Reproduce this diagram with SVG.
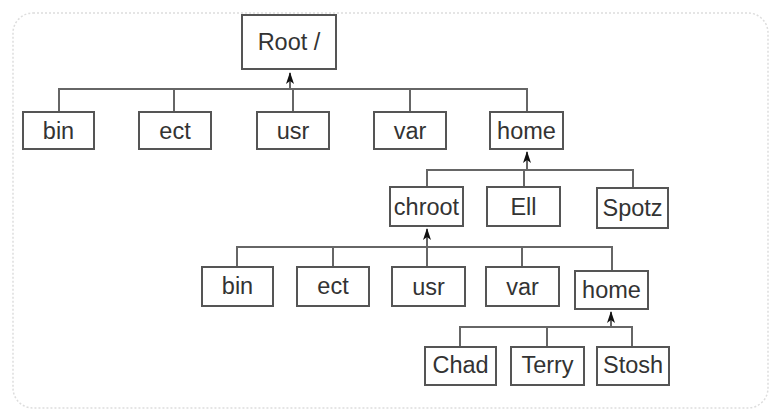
<svg xmlns="http://www.w3.org/2000/svg" width="775" height="414" viewBox="0 0 775 414">
<style>
.box{fill:#fff;stroke:#555;stroke-width:2}
.lbl{font-family:"Liberation Sans",Arial,sans-serif;font-size:23.5px;fill:#333;text-anchor:middle;dominant-baseline:central}
.con{fill:none;stroke:#666;stroke-width:2}
</style>
<defs>
<marker id="arr" viewBox="0 0 12 8" refX="11" refY="4" markerWidth="12" markerHeight="8" markerUnits="userSpaceOnUse" orient="auto">
<path d="M0 0 L12 4 L0 8 L3 4 Z" fill="#111"/>
</marker>
</defs>
<rect x="13" y="13" width="755" height="395" rx="20" fill="none" stroke="#ddd" stroke-width="1.5" stroke-dasharray="2 2"/>
<g id="connectors">
<path class="con" d="M59 112 V89 H527 V112"/>
<path class="con" d="M174 112 V89"/>
<path class="con" d="M293 112 V89"/>
<path class="con" d="M410 112 V89"/>
<path class="con" d="M290 89 V73" marker-end="url(#arr)"/>
<path class="con" d="M427 187 V170 H633 V188"/>
<path class="con" d="M524 187 V170"/>
<path class="con" d="M527 170 V152" marker-end="url(#arr)"/>
<path class="con" d="M237 267 V247 H612 V271"/>
<path class="con" d="M333 267 V247"/>
<path class="con" d="M427 267 V247"/>
<path class="con" d="M522 267 V247"/>
<path class="con" d="M427 247 V229" marker-end="url(#arr)"/>
<path class="con" d="M460 347 V327 H632 V347"/>
<path class="con" d="M547 347 V327"/>
<path class="con" d="M611 327 V312" marker-end="url(#arr)"/>
</g>
<g id="root"><rect class="box" x="242" y="15" width="94" height="54"/><text class="lbl" x="289" y="42">Root /</text></g>
<g id="bin1"><rect class="box" x="23" y="112" width="71" height="37"/><text class="lbl" x="58.5" y="130.5">bin</text></g>
<g id="ect1"><rect class="box" x="139" y="112" width="72" height="37"/><text class="lbl" x="175" y="130.5">ect</text></g>
<g id="usr1"><rect class="box" x="257" y="112" width="72" height="37"/><text class="lbl" x="293" y="130.5">usr</text></g>
<g id="var1"><rect class="box" x="374" y="112" width="72" height="37"/><text class="lbl" x="410" y="130.5">var</text></g>
<g id="home1"><rect class="box" x="490" y="112" width="73" height="37"/><text class="lbl" x="526.5" y="130.5">home</text></g>
<g id="chroot"><rect class="box" x="390" y="187" width="73" height="39"/><text class="lbl" x="426.5" y="206.5">chroot</text></g>
<g id="ell"><rect class="box" x="487" y="187" width="73" height="39"/><text class="lbl" x="523.5" y="206.5">Ell</text></g>
<g id="spotz"><rect class="box" x="597" y="188" width="71" height="40"/><text class="lbl" x="632.5" y="208">Spotz</text></g>
<g id="bin2"><rect class="box" x="202" y="267" width="71" height="39"/><text class="lbl" x="237.5" y="285.5">bin</text></g>
<g id="ect2"><rect class="box" x="297" y="267" width="72" height="39"/><text class="lbl" x="333" y="285.5">ect</text></g>
<g id="usr2"><rect class="box" x="392" y="267" width="73" height="39"/><text class="lbl" x="428.5" y="287">usr</text></g>
<g id="var2"><rect class="box" x="486" y="267" width="73" height="39"/><text class="lbl" x="522.5" y="287">var</text></g>
<g id="home2"><rect class="box" x="575" y="271" width="73" height="38"/><text class="lbl" x="611.5" y="290">home</text></g>
<g id="chad"><rect class="box" x="425" y="347" width="71" height="38"/><text class="lbl" x="460.5" y="365">Chad</text></g>
<g id="terry"><rect class="box" x="511" y="347" width="73" height="38"/><text class="lbl" x="547.5" y="365">Terry</text></g>
<g id="stosh"><rect class="box" x="597" y="347" width="72" height="38"/><text class="lbl" x="633" y="365">Stosh</text></g>
</svg>
